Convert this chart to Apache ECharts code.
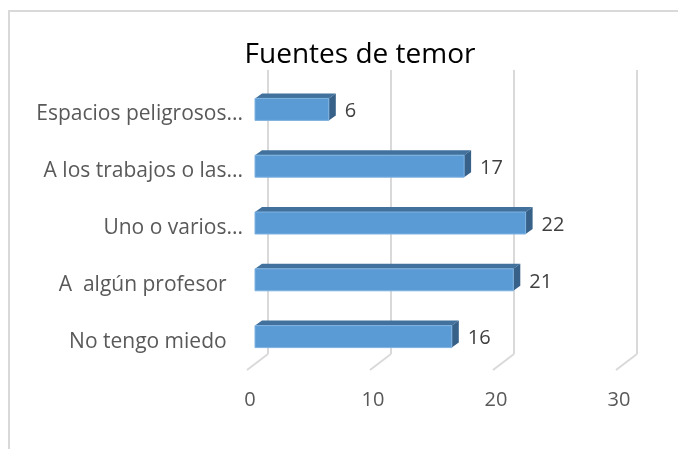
<!DOCTYPE html>
<html>
<head>
<meta charset="utf-8">
<script src="https://cdn.jsdelivr.net/npm/echarts@6/dist/echarts.min.js"></script>
<style>
  html, body { margin: 0; padding: 0; background: #fff; }
  #chart { width: 678px; height: 449px; }
</style>
</head>
<body>
<div id="chart"></div>
<script>
// categories top to bottom
const categories = [
  'Espacios peligrosos...',
  'A los trabajos o las...',
  'Uno o varios...',
  'A  algún profesor   ',
  'No tengo miedo   '
]
const values = [6, 17, 22, 21, 16]
const ticks = [0, 10, 20, 30]

const FONT = '"Open Sans", sans-serif'
const depthX = 7
const depthY = 5
const barH = 22

const myChart = echarts.init(document.getElementById('chart'))

// 3d-ish bar: front face + top face + side face
const renderBar = (params, api) => {
  const idx = api.value(1)
  const val = api.value(0)
  const p0 = api.coord([0, idx])
  const p1 = api.coord([val, idx])
  const x0 = p0[0]
  const x1 = p1[0]
  const yt = p0[1] - barH / 2
  const yb = p0[1] + barH / 2
  return {
    type: 'group',
    children: [
      {
        type: 'polygon',
        shape: { points: [[x0, yt], [x0 + depthX, yt - depthY], [x1 + depthX, yt - depthY], [x1, yt]] },
        style: { fill: '#41719C' }
      },
      {
        type: 'polygon',
        shape: { points: [[x1, yt], [x1 + depthX, yt - depthY], [x1 + depthX, yb - depthY], [x1, yb]] },
        style: { fill: '#376189' }
      },
      {
        type: 'rect',
        shape: { x: x0, y: yt, width: x1 - x0, height: barH },
        style: { fill: '#5B9BD5', stroke: '#7FB2E0', lineWidth: 1 }
      },
      {
        type: 'text',
        x: x1 + depthX + 9,
        y: p0[1] + 2,
        style: {
          text: String(val),
          fill: '#404040',
          font: '20px ' + FONT,
          verticalAlign: 'middle'
        }
      }
    ]
  }
}

// diagonal floor lines under back gridlines
const renderFloor = (params, api) => {
  const p = api.coord([api.value(0), 0])
  return {
    type: 'line',
    shape: { x1: p[0], y1: p[1], x2: p[0] - 21, y2: p[1] + 16 },
    style: { stroke: '#D9D9D9', lineWidth: 2 }
  }
}

myChart.setOption({
  animation: false,
  title: {
    text: 'Fuentes de temor',
    left: 355,
    textAlign: 'center',
    top: 36,
    textStyle: { fontFamily: FONT, fontSize: 28, fontWeight: 'normal', color: '#000' }
  },
  graphic: [
    {
      type: 'rect',
      shape: { x: 9, y: 11, width: 720, height: 500 },
      style: { fill: 'none', stroke: '#D9D9D9', lineWidth: 2 },
      z: -1
    }
  ],
  grid: [
    { left: 255, width: 369, top: 81, height: 284 },
    { left: 268, width: 369, top: 70, height: 284 },
    { left: 250, width: 369, top: 369, height: 1 }
  ],
  xAxis: [
    {
      gridIndex: 0, type: 'value', min: 0, max: 30, interval: 10,
      axisLine: { show: false }, axisTick: { show: false },
      axisLabel: { show: false }, splitLine: { show: false }
    },
    {
      gridIndex: 1, type: 'value', min: 0, max: 30, interval: 10,
      axisLine: { show: false }, axisTick: { show: false },
      axisLabel: { show: false },
      splitLine: { show: true, lineStyle: { color: '#D9D9D9', width: 2 } }
    },
    {
      gridIndex: 2, type: 'value', min: 0, max: 30, interval: 10,
      axisLine: { show: false }, axisTick: { show: false },
      splitLine: { show: false },
      axisLabel: {
        margin: 20, color: '#595959', fontFamily: FONT, fontSize: 20,
        formatter: (v) => (ticks.includes(v) ? String(v) : '')
      }
    }
  ],
  yAxis: [
    {
      gridIndex: 0, type: 'category', data: categories, inverse: true,
      axisLine: { show: false }, axisTick: { show: false },
      axisLabel: {
        margin: 12,
        formatter: (v) => '{c|' + v + '}',
        rich: {
          c: {
            color: '#595959', fontFamily: FONT, fontSize: 21,
            padding: [10, 0, 0, 0]
          }
        }
      }
    },
    {
      gridIndex: 1, type: 'value', min: 0, max: 1, show: false
    },
    {
      gridIndex: 2, type: 'value', min: 0, max: 1, show: false
    }
  ],
  series: [
    {
      type: 'custom',
      xAxisIndex: 1,
      yAxisIndex: 1,
      renderItem: renderFloor,
      data: ticks.map((t) => [t]),
      z: 1
    },
    {
      type: 'custom',
      xAxisIndex: 0,
      yAxisIndex: 0,
      renderItem: renderBar,
      data: values.map((v, i) => [v, i]),
      z: 5
    }
  ]
})
</script>
</body>
</html>
